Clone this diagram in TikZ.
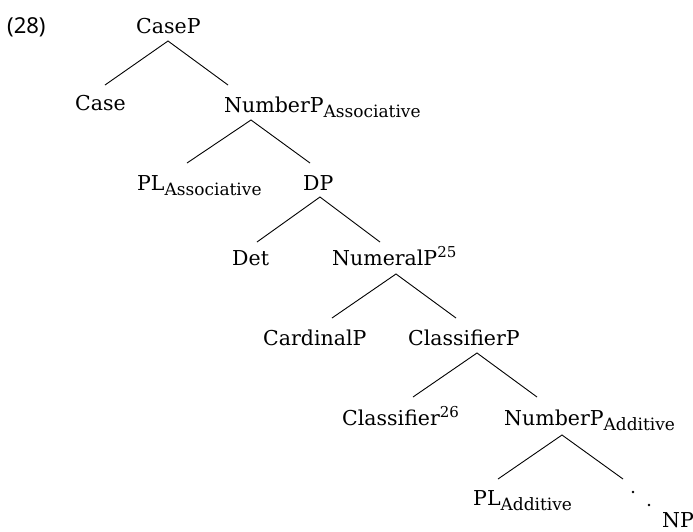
\documentclass[tikz,border=0pt]{standalone}
\usepackage{fontspec}
\setmainfont{DejaVu Serif}
\newfontfamily\exf{Noto Sans}
\newcommand\mysub[1]{\raisebox{-5pt}{\fontsize{17}{19}\selectfont #1}}
\newcommand\mysup[1]{\raisebox{8pt}{\fontsize{15}{17}\selectfont #1}}
\begin{document}
\begin{tikzpicture}[x=1pt,y=-1pt,
  lbl/.style={anchor=base west,inner sep=0pt,font=\fontsize{20.5}{23}\selectfont},
  edge/.style={line width=0.9pt},
  dotm/.style={circle,fill,inner sep=0pt,minimum size=2.8pt}]
\useasboundingbox (0,0) rectangle (693,531);
\node[lbl,font=\fontsize{22}{25}\exf] (ex) at (7,33) {(28)};
\node[lbl] (caseP) at (136,33) {CaseP};
\node[lbl] (case) at (75,110) {Case};
\node[lbl] (numA) at (224,112) {NumberP\mysub{Associative}};
\node[lbl] (plA) at (137,190) {PL\mysub{Associative}};
\node[lbl] (dp) at (303,190) {DP};
\node[lbl] (det) at (232,265) {Det};
\node[lbl] (numeral) at (332,265) {NumeralP\mysup{25}};
\node[lbl] (card) at (263,345) {CardinalP};
\node[lbl] (clP) at (408,345) {ClassifierP};
\node[lbl] (cl) at (342,425) {Classifier\mysup{26}};
\node[lbl] (numAdd) at (504,425) {NumberP\mysub{Additive}};
\node[lbl] (plAdd) at (473,505) {PL\mysub{Additive}};
\node[lbl] (np) at (662,527) {NP};
\coordinate (a1) at (168,41); \coordinate (l1) at (105,85); \coordinate (r1) at (228,85);
\coordinate (a2) at (251,120); \coordinate (l2) at (187,163); \coordinate (r2) at (310,163);
\coordinate (a3) at (320,197); \coordinate (l3) at (257,242); \coordinate (r3) at (380,242);
\coordinate (a4) at (396,274); \coordinate (l4) at (332,318); \coordinate (r4) at (456,318);
\coordinate (a5) at (477,353); \coordinate (l5) at (413,397); \coordinate (r5) at (537,397);
\coordinate (a6) at (562,435); \coordinate (l6) at (498,479); \coordinate (r6) at (623,479);
\foreach \i in {1,...,6}{\draw[edge] (l\i) -- (a\i) -- (r\i);}
\node[dotm] (d1) at (633,492) {};
\node[dotm] (d2) at (649,505) {};
\end{tikzpicture}
\end{document}
